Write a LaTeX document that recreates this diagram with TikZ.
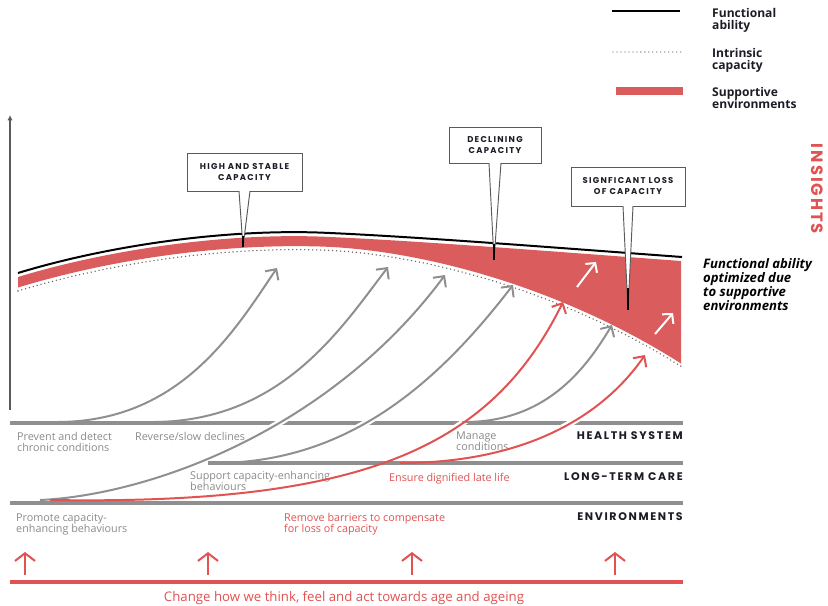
\documentclass[tikz,border=0pt]{standalone}
\usepackage{fontspec}
\setmainfont{Open Sans}
\newfontfamily\headf[LetterSpace=15]{Poppins}
\newfontfamily\insf[LetterSpace=12]{Poppins}
\usetikzlibrary{arrows.meta}
\definecolor{bandred}{RGB}{218,92,92}
\definecolor{lred}{RGB}{225,82,82}
\definecolor{lgray}{RGB}{143,143,143}
\definecolor{tgray}{RGB}{138,138,138}
\definecolor{hdark}{RGB}{28,28,38}
\definecolor{boxgray}{RGB}{90,90,90}
\definecolor{dotgray}{RGB}{100,100,100}
\begin{document}
\begin{tikzpicture}[x=0.03cm,y=-0.03cm,
  level/.style={line width=3.4pt, draw=lgray},
  grayarc/.style={line width=1.7pt, draw=lgray, -{Straight Barb[length=2.4mm,width=4.8mm]}},
  redarc/.style={line width=1.7pt, draw=lred, -{Straight Barb[length=2.4mm,width=4.8mm]}},
  casing/.style={line width=5.5pt, draw=white},
  whitearr/.style={line width=1.7pt, draw=white, -{Straight Barb[length=2mm,width=4.4mm]}},
  uparr/.style={line width=1.7pt, draw=lred, -{Straight Barb[length=2.3mm,width=6mm]}},
  dotline/.style={draw=dotgray, line width=1.3pt, dash pattern=on 0pt off 3.4pt, line cap=round},
  glabel/.style={text=tgray, font=\fontsize{9.2}{10}\selectfont, anchor=base west, inner sep=0},
  rlabel/.style={glabel, text=lred},
  head/.style={text=hdark, font=\headf\bfseries\fontsize{9.4}{10}\selectfont, anchor=base east, inner sep=0},
  calloutbox/.style={draw=boxgray, fill=white, line width=0.8pt, align=center, inner sep=0, outer sep=0,
     font=\headf\bfseries\fontsize{7.2}{9.4}\selectfont, text=hdark},
  wedge/.style={draw=boxgray, line width=0.8pt, line join=miter},
  legendtxt/.style={font=\bfseries\fontsize{10.3}{11}\selectfont, text=hdark, anchor=base west, inner sep=0},
  insight/.style={font=\bfseries\itshape\fontsize{11.2}{12}\selectfont, text=black, anchor=base west, inner sep=0}
]
\useasboundingbox (0,0) rectangle (828,605);

% ---------- legend ----------
\draw[black, line width=1.7pt] (612,11) -- (680,11);
\draw[dotline, line width=1.1pt] (613,52) -- (681,52);
\fill[bandred] (616,87) rectangle (683,95);
\node[legendtxt] (l1a) at (712,17) {Functional};
\node[legendtxt] (l1b) at (712,29) {ability};
\node[legendtxt] (l2a) at (712,57) {Intrinsic};
\node[legendtxt] (l2b) at (712,69) {capacity};
\node[legendtxt] (l3a) at (712,96) {Supportive};
\node[legendtxt] (l3b) at (712,108) {environments};

% ---------- axis ----------
\coordinate (ax0) at (10,410);
\coordinate (ax1) at (10,115);
\draw[draw=boxgray, line width=1.2pt, -{Latex[length=1.6mm,width=1.6mm]}] (ax0) -- (ax1);

% ---------- band ----------
\fill[bandred] (18,277) .. controls (110,249) and (230,232) .. (330,237) .. controls (420,241) and (560,252) .. (681,261)
  -- (681,363.5) .. controls (560,286.5) and (420,249.5) .. (320,246.5) .. controls (220,243.5) and (110,259.5) .. (18,287.5) -- cycle;
\draw[black, line width=1.7pt] (18,273) .. controls (110,245) and (230,228) .. (330,233) .. controls (420,237) and (560,248) .. (682,257);
\draw[dotline] (18,291) .. controls (110,263) and (220,247) .. (320,250) .. controls (420,253) and (560,290) .. (682,367);

% ---------- callouts ----------
\node[calloutbox, minimum width=3.45cm, minimum height=1.14cm] (cb1) at (244.5,172) {HIGH AND STABLE\\CAPACITY};
\coordinate (tip1) at (243,247);
\coordinate (tk1) at (243,236);
\fill[white] ([xshift=-0.165cm,yshift=1pt]cb1.south) -- (tip1) -- ([xshift=0.165cm,yshift=1pt]cb1.south) -- cycle;
\draw[wedge] ([xshift=-0.165cm]cb1.south) -- (tip1) -- ([xshift=0.165cm]cb1.south);
\draw[black, line width=1pt] (tk1) -- (tip1);

\node[calloutbox, minimum width=2.76cm, minimum height=1.08cm] (cb2) at (495,145) {DECLINING\\CAPACITY};
\coordinate (tip2) at (494,260);
\coordinate (tk2) at (494,244);
\fill[white] ([xshift=-0.18cm,yshift=1pt]cb2.south) -- (tip2) -- ([xshift=0.18cm,yshift=1pt]cb2.south) -- cycle;
\draw[wedge] ([xshift=-0.18cm]cb2.south) -- (tip2) -- ([xshift=0.18cm]cb2.south);
\draw[black, line width=1pt] (tk2) -- (tip2);

\node[calloutbox, minimum width=3.42cm, minimum height=1.17cm] (cb3) at (628,186.5) {SIGNFICANT LOSS\\OF CAPACITY};
\coordinate (tip3) at (628,310);
\coordinate (tk3) at (628,288);
\fill[white] ([xshift=-0.15cm,yshift=1pt]cb3.south) -- (tip3) -- ([xshift=0.15cm,yshift=1pt]cb3.south) -- cycle;
\draw[wedge] ([xshift=-0.15cm]cb3.south) -- (tip3) -- ([xshift=0.15cm]cb3.south);
\draw[black, line width=1pt] (tk3) -- (tip3);

% white arrows in band
\coordinate (w1a) at (577,287); \coordinate (w1b) at (596,262);
\coordinate (w2a) at (655,334); \coordinate (w2b) at (673,313);
\draw[whitearr] (w1a) -- (w1b);
\draw[whitearr] (w2a) -- (w2b);

% ---------- INSIGHTS ----------
\node[rotate=-90, text=lred, font=\insf\bfseries\fontsize{14}{14}\selectfont, inner sep=0] (ins) at (817,189) {INSIGHTS};
\node[insight] (fa1) at (703,268) {Functional ability};
\node[insight] (fa2) at (703,282) {optimized due};
\node[insight] (fa3) at (703,296) {to supportive};
\node[insight] (fa4) at (703,310) {environments};

% ---------- level lines ----------
\draw[level] (10,423) -- (683,423);
\draw[level] (208,463) -- (683,463);
\draw[level] (10,503) -- (683,503);

% ---------- labels ----------
\node[glabel] (p1) at (17,440) {Prevent and detect};
\node[glabel] (p2) at (17,451) {chronic conditions};
\node[glabel] (rv) at (135,440) {Reverse/slow declines};
\node[glabel] (s1) at (190,479) {Support capacity-enhancing};
\node[glabel] (s2) at (190,490) {behaviours};
\node[glabel] (pr1) at (16,521) {Promote capacity-};
\node[glabel] (pr2) at (16,532) {enhancing behaviours};
\node[glabel] (m1) at (456,439) {Manage};
\node[glabel] (m2) at (456,450) {conditions};
\node[rlabel] (rb1) at (284,521) {Remove barriers to compensate};
\node[rlabel] (rb2) at (284,532) {for loss of capacity};
\node[rlabel] (en) at (389,481) {Ensure dignified late life};
\node[head] (hs) at (683,439) {HEALTH SYSTEM};
\node[head] (lt) at (683,480) {LONG-TERM CARE};
\node[head] (ev) at (683,520) {ENVIRONMENTS};

% ---------- curved arrows ----------
\coordinate (g1s) at (55,422);  \coordinate (g1e) at (277,268);
\coordinate (g2s) at (150,422); \coordinate (g2e) at (388,267);
\coordinate (g3s) at (40,500);  \coordinate (g3e) at (445,275);
\coordinate (g4s) at (215,463); \coordinate (g4e) at (513,285);
\coordinate (g5s) at (462,422); \coordinate (g5e) at (612,325);
\coordinate (r1s) at (50,500);  \coordinate (r1e) at (563,302);
\coordinate (r2s) at (400,463); \coordinate (r2e) at (645,355);
% white casings where curves cross the health-system line
\begin{scope}
  \clip (0,416) rectangle (700,430);
  \draw[casing] (g3s) .. controls (150,495) and (330,430) .. (g3e);
  \draw[casing] (g4s) .. controls (350,463) and (440,380) .. (g4e);
  \draw[casing] (r1s) .. controls (360,505) and (490,450) .. (r1e);
  \draw[casing] (r2s) .. controls (520,463) and (600,420) .. (r2e);
\end{scope}
\draw[grayarc] (g1s) .. controls (180,423) and (235,330) .. (g1e);
\draw[grayarc] (g2s) .. controls (280,423) and (340,330) .. (g2e);
\draw[grayarc] (g3s) .. controls (150,495) and (330,430) .. (g3e);
\draw[grayarc] (g4s) .. controls (350,463) and (440,380) .. (g4e);
\draw[grayarc] (g5s) .. controls (545,423) and (585,370) .. (g5e);
\draw[redarc] (r1s) .. controls (360,505) and (490,450) .. (r1e);
\draw[redarc] (r2s) .. controls (520,463) and (600,420) .. (r2e);

% ---------- bottom ----------
\coordinate (b0) at (10,582); \coordinate (b1) at (683,582);
\draw[draw=lred, line width=3.4pt] (b0) -- (b1);
\foreach \x/\n in {25/a,208/b,412/c,615/d}{
  \coordinate (u\n0) at (\x,575); \coordinate (u\n1) at (\x,552);
  \draw[uparr] (u\n0) -- (u\n1);
}
\node[rlabel, font=\fontsize{11.3}{12}\selectfont, anchor=base] (chg) at (344,601) {Change how we think, feel and act towards age and ageing};
\end{tikzpicture}
\end{document}
